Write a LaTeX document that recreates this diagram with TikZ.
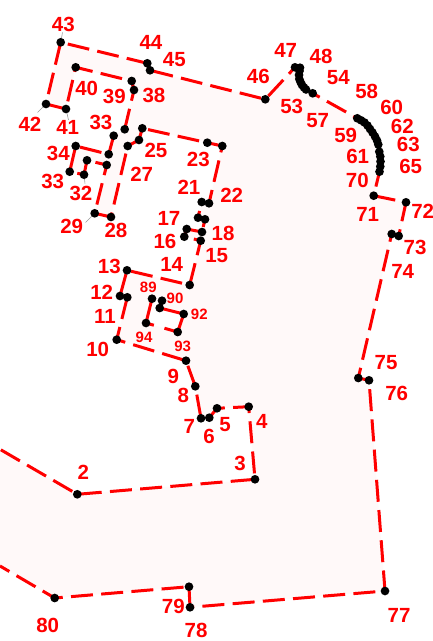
\documentclass[tikz,border=0pt]{standalone}
\usepackage{fontspec}
\setmainfont{Liberation Sans}
\pgfdeclarelayer{bg}
\pgfsetlayers{bg,main}
\definecolor{edge}{RGB}{255,0,0}
\definecolor{areafill}{RGB}{255,249,249}
\tikzset{
  pt/.style={circle,fill=black,inner sep=0pt,minimum size=8.7bp,outer sep=0pt},
  lab/.style={text=edge,font=\fontsize{20.5bp}{22bp}\selectfont\bfseries,inner sep=0pt},
  labs/.style={text=edge,font=\fontsize{15bp}{16bp}\selectfont\bfseries,inner sep=0pt},
  boundary/.style={draw=edge,line width=3bp,dash pattern=on 22bp off 8.3bp,dash phase=29.3bp},
  holeline/.style={draw=edge,line width=3bp,dash pattern=on 33.2bp off 11bp on 65.3bp off 100bp},
  leader/.style={draw=gray!80,line width=0.6bp},
}
\newcommand{\Pt}[3]{\node[pt] (p#1) at (#2,#3) {};}
\newcommand{\Qa}[3]{\node[lab] at (#2,#3) {#1};}
\newcommand{\Qb}[3]{\node[labs] at (#2,#3) {#1};}
\begin{document}
\begin{tikzpicture}[x=1bp,y=-1bp]
\useasboundingbox (0,0) rectangle (433,641);
\coordinate (in) at (0,449.3); \coordinate (out) at (0,566);
\Pt{2}{77.3}{494.3}\Pt{3}{255}{479.3}\Pt{4}{248.7}{406.7}\Pt{5}{217}{408.3}\Pt{6}{209.3}{417.7}\Pt{7}{201}{418.3}
\Pt{8}{195.3}{386.3}\Pt{9}{186}{360.7}\Pt{10}{116.7}{339.7}\Pt{11}{127.3}{297.3}\Pt{12}{120}{296}\Pt{13}{127}{270.3}
\Pt{14}{189.7}{285}\Pt{15}{200.7}{240.7}\Pt{16}{184.3}{236.7}\Pt{17}{186.7}{229}\Pt{18}{202}{232}\Pt{19}{205}{219.3}
\Pt{20}{198}{217.7}\Pt{21}{201.7}{202}\Pt{22}{209}{203.3}\Pt{23}{222.3}{146}\Pt{24}{207.3}{142.7}\Pt{25}{142.3}{128.3}
\Pt{26}{139}{140}\Pt{27}{127.7}{146}\Pt{28}{111}{217}\Pt{29}{94.7}{213.3}\Pt{30}{106.7}{165}\Pt{31}{87}{160.3}
\Pt{32}{84}{174.7}\Pt{33}{69.7}{171.7}\Pt{34}{75.7}{146}\Pt{35}{108.7}{154.3}\Pt{36}{113.7}{135.7}\Pt{37}{124.7}{129.3}
\Pt{38}{134}{90}\Pt{39}{131.7}{81}\Pt{40}{75.7}{67.3}\Pt{41}{66}{109}\Pt{42}{46}{104}\Pt{43}{60.7}{42.3}
\Pt{44}{147.3}{63.3}\Pt{45}{150}{70.3}\Pt{46}{265.3}{99.3}\Pt{47}{295}{67.3}\Pt{48}{300}{67.7}\Pt{49}{299.5}{71}
\Pt{50}{299}{75}\Pt{51}{299.3}{79}\Pt{52}{300.5}{82}\Pt{53}{302}{85}\Pt{54}{304}{87.5}\Pt{55}{306}{89.5}\Pt{57}{312.7}{93.3}
\Pt{58}{357.3}{118.3}\Pt{59}{361}{120.3}\Pt{60}{364.5}{122.5}\Pt{61}{367.5}{125.5}\Pt{62}{370}{129}\Pt{63}{372.5}{132.5}
\Pt{64}{375}{136.5}\Pt{65}{377}{140.5}\Pt{66}{378.3}{144.5}\Pt{67}{379.3}{151.7}\Pt{68}{380.3}{156.5}\Pt{69}{380.5}{161.5}
\Pt{70}{380.3}{166.5}\Pt{70b}{379.5}{171.7}\Pt{71}{373.7}{195.7}\Pt{72}{406}{202.3}
\Pt{73}{398.7}{236}\Pt{74}{391.7}{234}\Pt{75}{358.3}{378}\Pt{76}{369}{380.3}\Pt{77}{385}{591}\Pt{78}{190}{607.3}
\Pt{79}{189}{586.7}\Pt{80}{54.7}{598}
\Pt{89}{152}{298.7}\Pt{90}{162}{300.7}\Pt{91}{159.7}{308}\Pt{92}{183.7}{314}\Pt{93}{177.7}{332}\Pt{94}{146}{323}
\coordinate (l43) at (62.5,32.5); \coordinate (l42) at (37.5,112.5); \coordinate (l41) at (68.5,120);
\coordinate (l29) at (85.5,222.5); \coordinate (l32) at (85,183.5);
\Qa{43}{63.3}{24}\Qa{44}{151}{42.3}\Qa{45}{174.3}{60}\Qa{40}{86.7}{88.3}\Qa{39}{114.3}{96}\Qa{38}{154}{95}
\Qa{42}{30}{124.3}\Qa{41}{67.7}{127.3}\Qa{33}{101}{122.3}\Qa{25}{156}{150.7}\Qa{34}{58.3}{153.3}\Qa{33}{52.7}{181.7}
\Qa{27}{141.7}{174}\Qa{32}{81}{193.3}\Qa{23}{198.3}{159}\Qa{21}{189}{187.7}\Qa{22}{231.7}{195.7}\Qa{17}{169}{218.3}
\Qa{29}{71.7}{226.7}\Qa{28}{116}{230.7}\Qa{18}{223}{233.3}\Qa{16}{165}{241}\Qa{14}{171.7}{264}\Qa{15}{216.7}{256}
\Qa{13}{109.3}{266}\Qa{12}{101.7}{292.7}\Qa{11}{105}{316.7}\Qa{10}{97.7}{349.3}
\Qb{89}{148.3}{287.7}\Qb{90}{175}{298.3}\Qb{92}{199.3}{314}\Qb{94}{144}{337.3}\Qb{93}{182.7}{346}
\Qa{9}{173.3}{376}\Qa{8}{183.3}{395.7}\Qa{7}{189.3}{426}\Qa{6}{209}{436.7}\Qa{5}{225}{425}\Qa{4}{261.7}{421}
\Qa{3}{240}{463.3}\Qa{2}{83.3}{472.7}\Qa{79}{173.3}{606.7}\Qa{78}{196}{630}\Qa{80}{47.7}{625}\Qa{77}{399}{615}
\Qa{47}{285.7}{50}\Qa{48}{321}{56}\Qa{46}{258.3}{76.7}\Qa{54}{338.3}{77.7}\Qa{53}{291.7}{106}\Qa{58}{366.7}{91}
\Qa{60}{391.7}{107.3}\Qa{57}{317.7}{120.7}\Qa{62}{402.3}{126}\Qa{59}{345.7}{135.7}\Qa{63}{408.3}{144.3}
\Qa{61}{357.7}{156}\Qa{65}{410.7}{166}\Qa{70}{357.3}{180}\Qa{71}{367.7}{214}\Qa{72}{422.7}{211.7}\Qa{73}{415}{247.3}
\Qa{74}{402.7}{271.7}\Qa{75}{386}{362.7}\Qa{76}{396.7}{393.3}
\begin{pgfonlayer}{bg}
\fill[areafill,even odd rule] (in) -- (p2.center) -- (p3.center) -- (p4.center) -- (p5.center) -- (p6.center) -- (p7.center) -- (p8.center) -- (p9.center) -- (p10.center) -- (p11.center) -- (p12.center) -- (p13.center) -- (p14.center) -- (p15.center) -- (p16.center) -- (p17.center) -- (p18.center) -- (p19.center) -- (p20.center) -- (p21.center) -- (p22.center) -- (p23.center) -- (p24.center) -- (p25.center) -- (p26.center) -- (p27.center) -- (p28.center) -- (p29.center) -- (p30.center) -- (p31.center) -- (p32.center) -- (p33.center) -- (p34.center) -- (p35.center) -- (p36.center) -- (p37.center) -- (p38.center) -- (p39.center) -- (p40.center) -- (p41.center) -- (p42.center) -- (p43.center) -- (p44.center) -- (p45.center) -- (p46.center) -- (p47.center) -- (p48.center) -- (p57.center) -- (p58.center) -- (p66.center) -- (p70b.center) -- (p71.center) -- (p72.center) -- (p73.center) -- (p74.center) -- (p75.center) -- (p76.center) -- (p77.center) -- (p78.center) -- (p79.center) -- (p80.center) -- (out) -- cycle
 (p89.center) -- (p90.center) -- (p91.center) -- (p92.center) -- (p93.center) -- (p94.center) -- cycle;
\draw[boundary] (in) -- (p2.center) -- (p3.center) -- (p4.center) -- (p5.center) -- (p6.center) -- (p7.center) -- (p8.center) -- (p9.center) -- (p10.center) -- (p11.center) -- (p12.center) -- (p13.center) -- (p14.center) -- (p15.center) -- (p16.center) -- (p17.center) -- (p18.center) -- (p19.center) -- (p20.center) -- (p21.center) -- (p22.center) -- (p23.center) -- (p24.center) -- (p25.center) -- (p26.center) -- (p27.center) -- (p28.center) -- (p29.center) -- (p30.center) -- (p31.center) -- (p32.center) -- (p33.center) -- (p34.center) -- (p35.center) -- (p36.center) -- (p37.center) -- (p38.center) -- (p39.center) -- (p40.center) -- (p41.center) -- (p42.center) -- (p43.center) -- (p44.center) -- (p45.center) -- (p46.center);
\draw[boundary,dash phase=25.8bp] (p46.center) -- (p47.center);
\draw[boundary,dash phase=14bp] (p57.center) -- (p58.center);
\draw[boundary,dash phase=6.7bp] (p70b.center) -- (p71.center);
\draw[boundary,dash phase=0bp] (p71.center) -- (p72.center) -- (p73.center) -- (p74.center) -- (p75.center) -- (p76.center) -- (p77.center) -- (p78.center) -- (p79.center) -- (p80.center) -- (out);
\draw[holeline] (p89.center) -- (p94.center) -- (p93.center) -- (p92.center) -- (p91.center) -- (p90.center);
\draw[leader] (p43) -- (l43); \draw[leader] (p42) -- (l42); \draw[leader] (p41) -- (l41);
\draw[leader] (p29) -- (l29); \draw[leader] (p32) -- (l32);
\end{pgfonlayer}
\end{tikzpicture}
\end{document}
